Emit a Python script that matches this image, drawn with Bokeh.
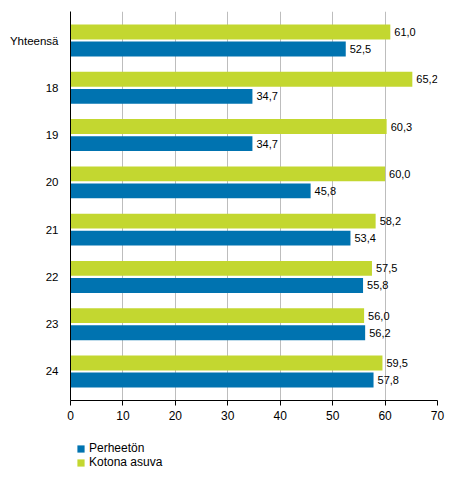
from bokeh.plotting import figure
from bokeh.models import ColumnDataSource, FactorRange, Range1d, Legend, LegendItem, FixedTicker
from bokeh.core.properties import value
from bokeh.layouts import column
from bokeh.transform import dodge
from bokeh.embed import file_html
from bokeh.resources import INLINE

# ikä / yhteensä
categories = ["Yhteensä", "18", "19", "20", "21", "22", "23", "24"]
perheeton = [52.5, 34.7, 34.7, 45.8, 53.4, 55.8, 56.2, 57.8]
kotona_asuva = [61.0, 65.2, 60.3, 60.0, 58.2, 57.5, 56.0, 59.5]
x_ticks = [0, 10, 20, 30, 40, 50, 60, 70]

BLUE = "#0073b0"
GREEN = "#c3d730"
FONT = "Liberation Sans"


def fi(v):
    return ("%.1f" % v).replace(".", ",")


src = ColumnDataSource(data=dict(
    cat=categories,
    per=perheeton,
    kot=kotona_asuva,
    per_lbl=[fi(v) for v in perheeton],
    kot_lbl=[fi(v) for v in kotona_asuva],
))

p = figure(width=446, height=430,
           y_range=FactorRange(factors=list(reversed(categories)), range_padding=0.029),
           x_range=Range1d(0, 70),
           output_backend="svg", toolbar_location=None,
           min_border_left=70, min_border_right=9, min_border_top=11, min_border_bottom=30)
p.outline_line_color = None

p.hbar(y=dodge("cat", 0.18, range=p.y_range), right="kot", left=0, height=0.317,
       source=src, fill_color=GREEN, line_color=None)
p.hbar(y=dodge("cat", -0.18, range=p.y_range), right="per", left=0, height=0.317,
       source=src, fill_color=BLUE, line_color=None)

p.text(x="kot", y=dodge("cat", 0.18, range=p.y_range), text="kot_lbl", source=src,
       x_offset=4, text_baseline="middle", text_font=value(FONT),
       text_font_size="11px", text_color="#000000")
p.text(x="per", y=dodge("cat", -0.18, range=p.y_range), text="per_lbl", source=src,
       x_offset=4, text_baseline="middle", text_font=value(FONT),
       text_font_size="11px", text_color="#000000")

# axes
p.xaxis.ticker = FixedTicker(ticks=x_ticks)
p.xaxis.major_tick_out = 5
p.xaxis.major_tick_in = 0
p.xaxis.minor_tick_line_color = None
p.xaxis.axis_line_color = "#000000"
p.xaxis.major_tick_line_color = "#000000"
p.xaxis.major_label_text_font = FONT
p.xaxis.major_label_text_font_size = "12px"
p.xaxis.major_label_text_color = "#000000"
p.xaxis.major_label_standoff = 5

p.yaxis.major_tick_line_color = None
p.yaxis.minor_tick_line_color = None
p.yaxis.axis_line_color = "#000000"
p.yaxis.major_label_text_font = FONT
p.yaxis.major_label_text_font_size = "11.5px"
p.yaxis.major_label_text_color = "#000000"
p.yaxis.major_label_standoff = 6

p.ygrid.grid_line_color = None
p.xgrid.grid_line_color = "#bdbdbd"
p.xgrid.ticker = FixedTicker(ticks=x_ticks)

# legend in its own small strip under the chart
leg = figure(width=446, height=42, x_range=Range1d(0, 1), y_range=Range1d(0, 1),
             output_backend="svg", toolbar_location=None,
             min_border_left=63, min_border_right=0, min_border_top=5, min_border_bottom=0)
leg.axis.visible = False
leg.grid.visible = False
leg.outline_line_color = None
# swatch-only renderers, their one bar lies outside the visible range
dummy = ColumnDataSource(data=dict(y=[-5], right=[-5]))
l_per = leg.hbar(y="y", right="right", left=-6, height=0.1, source=dummy,
                 fill_color=BLUE, line_color=None)
l_kot = leg.hbar(y="y", right="right", left=-6, height=0.1, source=dummy,
                 fill_color=GREEN, line_color=None)

legend = Legend(items=[LegendItem(label="Perheetön", renderers=[l_per], index=0),
                       LegendItem(label="Kotona asuva", renderers=[l_kot], index=0)],
                location="top_left", orientation="vertical",
                glyph_width=9, glyph_height=9, label_standoff=4,
                label_height=14, spacing=-1, padding=4, margin=6,
                label_text_font=FONT, label_text_font_size="12px",
                label_text_color="#000000",
                border_line_color=None, background_fill_alpha=0)
leg.add_layout(legend, "center")

open("out.html", "w").write(file_html(column(p, leg, spacing=0), INLINE))
